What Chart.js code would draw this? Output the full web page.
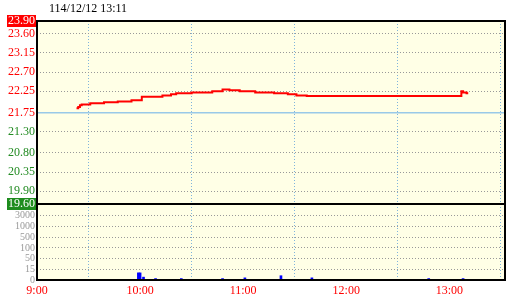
<!DOCTYPE html>
<html>
<head>
<meta charset="utf-8">
<script src="https://cdn.jsdelivr.net/npm/chart.js@4.4.1/dist/chart.umd.min.js"></script>
<style>
  body { margin: 0; background: #fff; }
</style>
</head>
<body>
<canvas id="stockChart" width="520" height="300"></canvas>
<script>
const titleText = '114/12/12 13:11';

// minutes after 9:00 where the price changes, and the price held from then on
const priceMinutes = [23, 24, 25, 26, 31, 39, 47, 55, 61, 73, 78, 81, 90, 102, 108, 112, 118, 127, 138, 146, 151, 157, 247, 248, 250, 251];
const priceValues = [21.85, 21.88, 21.92, 21.94, 21.97, 21.99, 22.01, 22.04, 22.12, 22.15, 22.18, 22.20, 22.22, 22.25, 22.29, 22.27, 22.25, 22.22, 22.20, 22.18, 22.15, 22.14, 22.25, 22.22, 22.20, 22.20];

// traded volume (lots) per minute
const volMinutes = [59, 60, 62, 69, 84, 108, 121, 142, 160, 228, 248];
const volValues = [10, 10, 4, 2, 2, 2, 3, 6, 3, 2, 2];

const priceTicks = [23.90, 23.60, 23.15, 22.70, 22.25, 21.75, 21.30, 20.80, 20.35, 19.90, 19.60];
const refPrice = 21.75;
const volTicks = [0, 15, 50, 100, 500, 1000, 3000];
const timeTicks = [0, 60, 120, 180, 240];
const timeLabels = ['9:00', '10:00', '11:00', '12:00', '13:00'];

const serif = 'Liberation Serif';

// volume axis is evenly spaced between its tick values
function volPos(v) {
    for (let i = 0; i < volTicks.length - 1; i++) {
        if (v <= volTicks[i + 1]) {
            return i + (v - volTicks[i]) / (volTicks[i + 1] - volTicks[i]);
        }
    }
    return volTicks.length - 1;
}

const isLimit = v => v === priceTicks[0] || v === priceTicks[priceTicks.length - 1];

const panelPlugin = {
    id: 'panel',
    beforeDraw(chart) {
        const { ctx, chartArea: a } = chart;
        ctx.save();
        ctx.fillStyle = '#ffffe6';
        ctx.fillRect(a.left, a.top, a.right - a.left, a.bottom - a.top);
        ctx.restore();
    },
    afterDraw(chart) {
        const { ctx, chartArea: a } = chart;
        const sep = chart.scales.y.bottom;
        ctx.save();
        ctx.strokeStyle = '#000';
        ctx.lineWidth = 2;
        ctx.strokeRect(a.left, a.top, a.right - a.left, a.bottom - a.top);
        ctx.beginPath();
        ctx.moveTo(a.left, sep);
        ctx.lineTo(a.right, sep);
        ctx.stroke();
        ctx.fillStyle = '#000';
        ctx.font = '12px "' + serif + '"';
        ctx.fillText(titleText, 49, 12);
        ctx.restore();
    }
};

const ctx = document.getElementById('stockChart').getContext('2d');
new Chart(ctx, {
    type: 'line',
    data: {
        datasets: [{
            type: 'line',
            data: priceMinutes.map((m, i) => ({ x: m, y: priceValues[i] })),
            yAxisID: 'y',
            borderColor: '#ff0000',
            borderWidth: 2,
            pointRadius: 0,
            stepped: true
        }, {
            type: 'bar',
            data: volMinutes.map((m, i) => ({ x: m, y: volPos(volValues[i]) })),
            yAxisID: 'yv',
            backgroundColor: '#0000ff',
            barThickness: 2
        }]
    },
    options: {
        responsive: false,
        animation: false,
        events: [],
        layout: { padding: { top: 21, right: 15, left: 0, bottom: 0 } },
        plugins: { legend: { display: false }, tooltip: { enabled: false } },
        scales: {
            x: {
                type: 'linear', min: 0, max: 272.4, offset: false,
                afterBuildTicks: s => { s.ticks = timeTicks.map(v => ({ value: v })); },
                afterFit: s => { s.height = 20; },
                ticks: {
                    autoSkip: false, maxRotation: 0, padding: 4,
                    color: '#ff0000',
                    font: { family: serif, size: 12 },
                    callback: v => timeLabels[timeTicks.indexOf(v)]
                },
                grid: { color: '#7fb4dc', drawTicks: false },
                border: { display: false, dash: [1, 2] }
            },
            y: {
                position: 'left', stack: 'panes', stackWeight: 183, weight: 2,
                min: 19.60, max: 23.90,
                afterBuildTicks: s => { s.ticks = priceTicks.map(v => ({ value: v })); },
                afterFit: s => { s.width = 37; },
                ticks: {
                    autoSkip: false, padding: 2,
                    font: { family: serif, size: 12, lineHeight: 1 },
                    color: c => isLimit(c.tick.value) ? '#fff' : (c.tick.value >= refPrice ? '#ff0000' : '#228b22'),
                    callback: v => v.toFixed(2),
                    showLabelBackdrop: c => isLimit(c.tick.value),
                    backdropColor: c => c.tick.value === priceTicks[0] ? '#ff0000' : '#1e8c1e',
                    backdropPadding: { left: 1, right: 1, top: 0, bottom: 0 }
                },
                grid: {
                    drawTicks: false,
                    color: c => c.tick && c.tick.value === refPrice ? '#99c9e8' : '#999',
                    lineWidth: c => c.tick && c.tick.value === refPrice ? 1.5 : 1
                },
                border: { display: false, dash: c => c.tick && c.tick.value === refPrice ? [] : [1, 2] }
            },
            yv: {
                position: 'left', stack: 'panes', stackWeight: 76, weight: 1,
                min: 0, max: 7.1,
                afterBuildTicks: s => { s.ticks = volTicks.map((v, i) => ({ value: i })); },
                afterFit: s => { s.width = 37; },
                ticks: {
                    autoSkip: false, padding: 2,
                    color: '#999',
                    font: { family: serif, size: 10, lineHeight: 1 },
                    callback: v => String(volTicks[v])
                },
                grid: { drawTicks: false, color: '#999' },
                border: { display: false, dash: [1, 2] }
            }
        }
    },
    plugins: [panelPlugin]
});
</script>
</body>
</html>
